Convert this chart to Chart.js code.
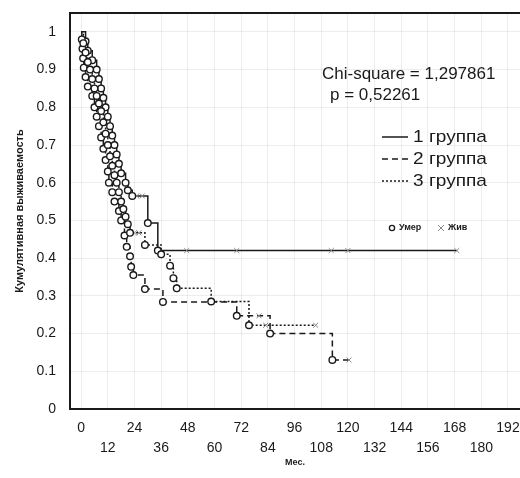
<!DOCTYPE html>
<html>
<head>
<meta charset="utf-8">
<script src="https://cdn.jsdelivr.net/npm/chart.js@4.4.1/dist/chart.umd.min.js"></script>
<style>
  html, body { margin: 0; padding: 0; background: #fff; }
  canvas { display: block; }
</style>
</head>
<body>
<canvas id="km" width="520" height="478"></canvas>
<script>
// tick labels
const xTicks = [0, 12, 24, 36, 48, 60, 72, 84, 96, 108, 120, 132, 144, 156, 168, 180, 192];
const yTicks = [0, 0.1, 0.2, 0.3, 0.4, 0.5, 0.6, 0.7, 0.8, 0.9, 1];

// 1 группа (deaths, then censored)
const g1Times = [2, 3, 5, 7, 8, 9, 10, 11, 12, 13, 14, 15, 16, 17, 18, 20, 21, 23, 30, 34.5];
const g1Surv = [0.975, 0.95, 0.925, 0.9, 0.875, 0.85, 0.825, 0.8, 0.775, 0.75, 0.725, 0.7, 0.675, 0.65, 0.625, 0.6, 0.58, 0.565, 0.493, 0.42];
const g1CensTimes = [25, 27.5, 47.5, 70, 112.5, 120, 169];
const g1CensSurv = [0.565, 0.565, 0.42, 0.42, 0.42, 0.42, 0.42];

// 2 группа
const g2Times = [0.3, 0.6, 0.9, 1.2, 2, 3, 5, 6, 7, 8, 9, 10, 11, 12, 12.5, 14, 15, 17, 18, 19.5, 20.5, 22, 22.5, 23.5, 28.7, 36.8, 70, 85, 113];
const g2Surv = [0.98, 0.955, 0.93, 0.905, 0.88, 0.855, 0.83, 0.8, 0.775, 0.75, 0.72, 0.69, 0.66, 0.63, 0.6, 0.575, 0.55, 0.525, 0.5, 0.46, 0.43, 0.405, 0.377, 0.355, 0.318, 0.284, 0.247, 0.2, 0.13];
const g2CensTimes = [80, 120.5];
const g2CensSurv = [0.247, 0.13];

// 3 группа
const g3Times = [1, 2, 3, 4, 5, 6, 7, 8, 9, 10, 11, 12, 13, 14, 15, 16, 17, 18, 19, 20, 21, 22, 28.7, 36, 40, 41.5, 43, 58.5, 75.5];
const g3Surv = [0.97, 0.945, 0.92, 0.9, 0.875, 0.85, 0.83, 0.81, 0.79, 0.76, 0.73, 0.7, 0.67, 0.645, 0.62, 0.6, 0.575, 0.55, 0.53, 0.51, 0.49, 0.467, 0.435, 0.41, 0.38, 0.347, 0.32, 0.285, 0.222];
const g3CensTimes = [24, 26, 83, 105.5];
const g3CensSurv = [0.467, 0.467, 0.222, 0.222];

const FONT = '"Liberation Sans", Arial, sans-serif';
const INK = '#1a1a1a';

function pts(t, s) {
    return t.map((v, i) => ({ x: v, y: s[i] }));
}

function curve(t, s, ct, cs) {
    // step line from (0,1) through events up to the last censored time
    const d = [{ x: 0, y: 1 }].concat(pts(t, s));
    d.push({ x: ct[ct.length - 1], y: cs[cs.length - 1] });
    return d;
}

function lineSet(data, dash) {
    return {
        data: data,
        showLine: true,
        stepped: 'before',
        borderColor: INK,
        borderWidth: 1.5,
        borderDash: dash,
        pointRadius: 0,
        fill: false,
        order: 3
    };
}

const deaths = pts(g1Times, g1Surv).concat(pts(g2Times, g2Surv), pts(g3Times, g3Surv));
const censored = pts(g1CensTimes, g1CensSurv).concat(pts(g2CensTimes, g2CensSurv), pts(g3CensTimes, g3CensSurv));

function wideText(ctx, text, x, y, sx) {
    ctx.save();
    ctx.translate(x, y);
    ctx.scale(sx, 1);
    ctx.fillText(text, 0, 0);
    ctx.restore();
}

const overlay = {
    id: 'overlay',
    afterDraw(chart) {
        const ctx = chart.ctx;
        const a = chart.chartArea;
        ctx.save();
        // top frame
        ctx.strokeStyle = INK;
        ctx.lineWidth = 2;
        ctx.beginPath();
        ctx.moveTo(a.left, a.top);
        ctx.lineTo(a.right, a.top);
        ctx.stroke();

        ctx.fillStyle = INK;
        ctx.textBaseline = 'middle';
        ctx.font = '17px ' + FONT;
        wideText(ctx, 'Chi-square = 1,297861', 322, 74, 1.0);
        wideText(ctx, 'p = 0,52261', 330, 95, 1.0);

        // legend for lines
        const rows = [['1 группа', []], ['2 группа', [6, 4]], ['3 группа', [2, 2]]];
        rows.forEach((r, i) => {
            const y = 137 + i * 22;
            ctx.beginPath();
            ctx.setLineDash(r[1]);
            ctx.lineWidth = 1.5;
            ctx.moveTo(382, y);
            ctx.lineTo(408, y);
            ctx.stroke();
            ctx.setLineDash([]);
            wideText(ctx, r[0], 413, y, 1.12);
        });

        // legend for markers
        ctx.font = 'bold 9px ' + FONT;
        ctx.lineWidth = 1.3;
        ctx.beginPath();
        ctx.arc(392, 228, 2.6, 0, Math.PI * 2);
        ctx.stroke();
        ctx.fillText('Умер', 399, 228);
        ctx.strokeStyle = '#888';
        ctx.lineWidth = 1;
        ctx.beginPath();
        ctx.moveTo(438, 225); ctx.lineTo(444, 231);
        ctx.moveTo(444, 225); ctx.lineTo(438, 231);
        ctx.stroke();
        ctx.fillText('Жив', 448, 228);
        ctx.restore();
    }
};

new Chart(document.getElementById('km'), {
    type: 'scatter',
    data: {
        datasets: [
            {
                data: deaths,
                pointStyle: 'circle',
                pointRadius: 3.3,
                pointBorderWidth: 1.4,
                pointBorderColor: INK,
                pointBackgroundColor: '#fff',
                order: 1
            },
            {
                data: censored,
                pointStyle: 'crossRot',
                pointRadius: 3.5,
                pointBorderWidth: 1,
                pointBorderColor: '#888',
                order: 2
            },
            lineSet(curve(g1Times, g1Surv, g1CensTimes, g1CensSurv), []),
            lineSet(curve(g2Times, g2Surv, g2CensTimes, g2CensSurv), [6, 4]),
            lineSet(curve(g3Times, g3Surv, g3CensTimes, g3CensSurv), [2, 2])
        ]
    },
    options: {
        responsive: false,
        animation: false,
        devicePixelRatio: 1,
        layout: { autoPadding: false, padding: { top: 13, right: 0, left: 0, bottom: 0 } },
        plugins: { legend: { display: false }, tooltip: { enabled: false } },
        scales: {
            x: {
                type: 'linear',
                min: -5,
                max: 197.4,
                afterBuildTicks: (axis) => { axis.ticks = xTicks.map(v => ({ value: v })); },
                afterFit: (axis) => {
                    axis.height = 69;
                    axis.paddingLeft = 0;
                    axis.paddingRight = 0;
                },
                border: { display: true, color: INK, width: 2 },
                grid: { color: 'rgba(0,0,0,0.07)', drawTicks: false },
                ticks: {
                    padding: 9,
                    color: INK,
                    maxRotation: 0,
                    autoSkip: false,
                    font: { family: FONT, size: 14, lineHeight: 1.45 },
                    // alternate rows: multiples of 24 on top, the rest below
                    callback: (v) => (v % 24 === 0 ? String(v) : ['', String(v)])
                },
                title: {
                    display: true,
                    text: 'Мес.',
                    color: INK,
                    font: { family: FONT, size: 9, weight: 'bold' },
                    padding: { top: 0, bottom: 10 }
                }
            },
            y: {
                min: 0,
                max: 1.05,
                afterBuildTicks: (axis) => { axis.ticks = yTicks.map(v => ({ value: v })); },
                afterFit: (axis) => {
                    axis.width = 70;
                    axis.paddingTop = 0;
                    axis.paddingBottom = 0;
                },
                border: { display: true, color: INK, width: 2 },
                grid: { color: 'rgba(0,0,0,0.07)', drawTicks: false },
                ticks: {
                    padding: 14,
                    color: INK,
                    font: { family: FONT, size: 14 },
                    callback: (v) => String(v)
                },
                title: {
                    display: true,
                    text: 'Кумулятивная выживаемость',
                    color: INK,
                    font: { family: FONT, size: 11, weight: 'bold' },
                    padding: { top: 13, bottom: 0 }
                }
            }
        }
    },
    plugins: [overlay]
});
</script>
</body>
</html>
